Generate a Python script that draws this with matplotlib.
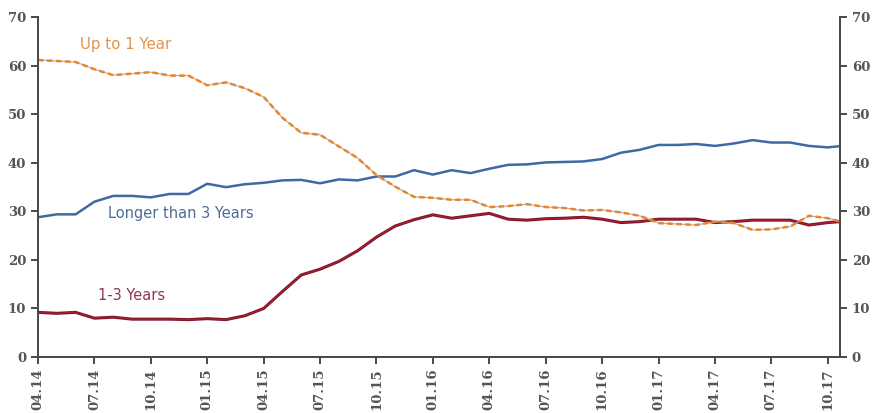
import numpy as np
import matplotlib
matplotlib.use("Agg")
import matplotlib.pyplot as plt

# ---------------------------------------------------------------------------
# data (monthly, 04.14 onward), shares in %
# ---------------------------------------------------------------------------
up_to_1y = [61.2, 61.0, 60.8, 59.3, 58.1, 58.4, 58.7, 58.0, 58.0, 56.0,
            56.6, 55.4, 53.6, 49.3, 46.2, 45.8, 43.4, 41.0, 37.5, 35.1,
            33.0, 32.8, 32.4, 32.4, 30.9, 31.1, 31.5, 30.9, 30.7, 30.2,
            30.3, 29.8, 29.1, 27.6, 27.4, 27.2, 27.9, 27.6, 26.2, 26.3,
            26.9, 29.1, 28.6, 27.6]
years_1_3 = [9.2, 9.0, 9.2, 8.0, 8.2, 7.8, 7.8, 7.8, 7.7, 7.9,
             7.7, 8.5, 10.0, 13.5, 16.9, 18.1, 19.7, 21.9, 24.7, 27.0,
             28.3, 29.3, 28.6, 29.1, 29.6, 28.4, 28.2, 28.5, 28.6, 28.8,
             28.4, 27.7, 27.9, 28.4, 28.4, 28.4, 27.7, 27.9, 28.2, 28.2,
             28.2, 27.2, 27.7, 28.0]
over_3y = [28.8, 29.4, 29.4, 32.0, 33.2, 33.2, 32.9, 33.6, 33.6, 35.7,
           35.0, 35.6, 35.9, 36.4, 36.5, 35.8, 36.6, 36.4, 37.2, 37.2,
           38.5, 37.6, 38.5, 37.9, 38.8, 39.6, 39.7, 40.1, 40.2, 40.3,
           40.8, 42.1, 42.7, 43.7, 43.7, 43.9, 43.5, 44.0, 44.7, 44.2,
           44.2, 43.5, 43.2, 43.6]
tick_labels = ["04.14", "07.14", "10.14", "01.15", "04.15", "07.15", "10.15",
               "01.16", "04.16", "07.16", "10.16", "01.17", "04.17", "07.17",
               "10.17"]

ORANGE = "#E8852A"
BLUE = "#3D6AA3"
RED = "#7f1729"
AXIS = "#4a4a4a"

x = np.arange(len(up_to_1y))

fig = plt.figure(figsize=(8.77, 4.13), dpi=100)
ax = fig.add_axes([0.0433, 0.1356, 0.9145, 0.8224])

ax.plot(x, over_3y, color=BLUE, lw=1.8, zorder=3)
ax.plot(x, years_1_3, color=RED, lw=2.2, zorder=4)
ax.plot(x, years_1_3, color="#b51f38", lw=0.6, zorder=4)
ax.plot(x, up_to_1y, color="#b3aaa0", lw=0.8, zorder=5)
ax.plot(x, up_to_1y, color=ORANGE, lw=1.8, ls=(0, (2.2, 1.4)), zorder=5)

ax.set_xlim(0, 42.65)
ax.set_ylim(0, 70)
ax.set_yticks(range(0, 71, 10))
ax.set_xticks(np.arange(0, 3 * len(tick_labels), 3))
ax.set_xticklabels(tick_labels, rotation=90)

ax2 = ax.twinx()
ax2.set_ylim(0, 70)
ax2.set_yticks(range(0, 71, 10))

for a in (ax, ax2):
    for s in a.spines.values():
        s.set_color(AXIS)
        s.set_linewidth(1.4)
    a.spines["top"].set_visible(False)
    a.tick_params(colors=AXIS, width=1.4, length=5, labelsize=9.5)
    for lab in a.get_xticklabels() + a.get_yticklabels():
        lab.set_fontfamily("DejaVu Serif")
        lab.set_fontweight("bold")
        lab.set_color("#555555")

ax.text(2.25, 64.5, "Up to 1 Year", color="#E39445", fontsize=10.8,
        ha="left", va="center")
ax.text(3.7, 29.6, "Longer than 3 Years", color="#4E6C98", fontsize=10.5,
        ha="left", va="center")
ax.text(3.2, 12.7, "1-3 Years", color="#8C3A4C", fontsize=10.5,
        ha="left", va="center")

fig.savefig("out.png", dpi=100)
